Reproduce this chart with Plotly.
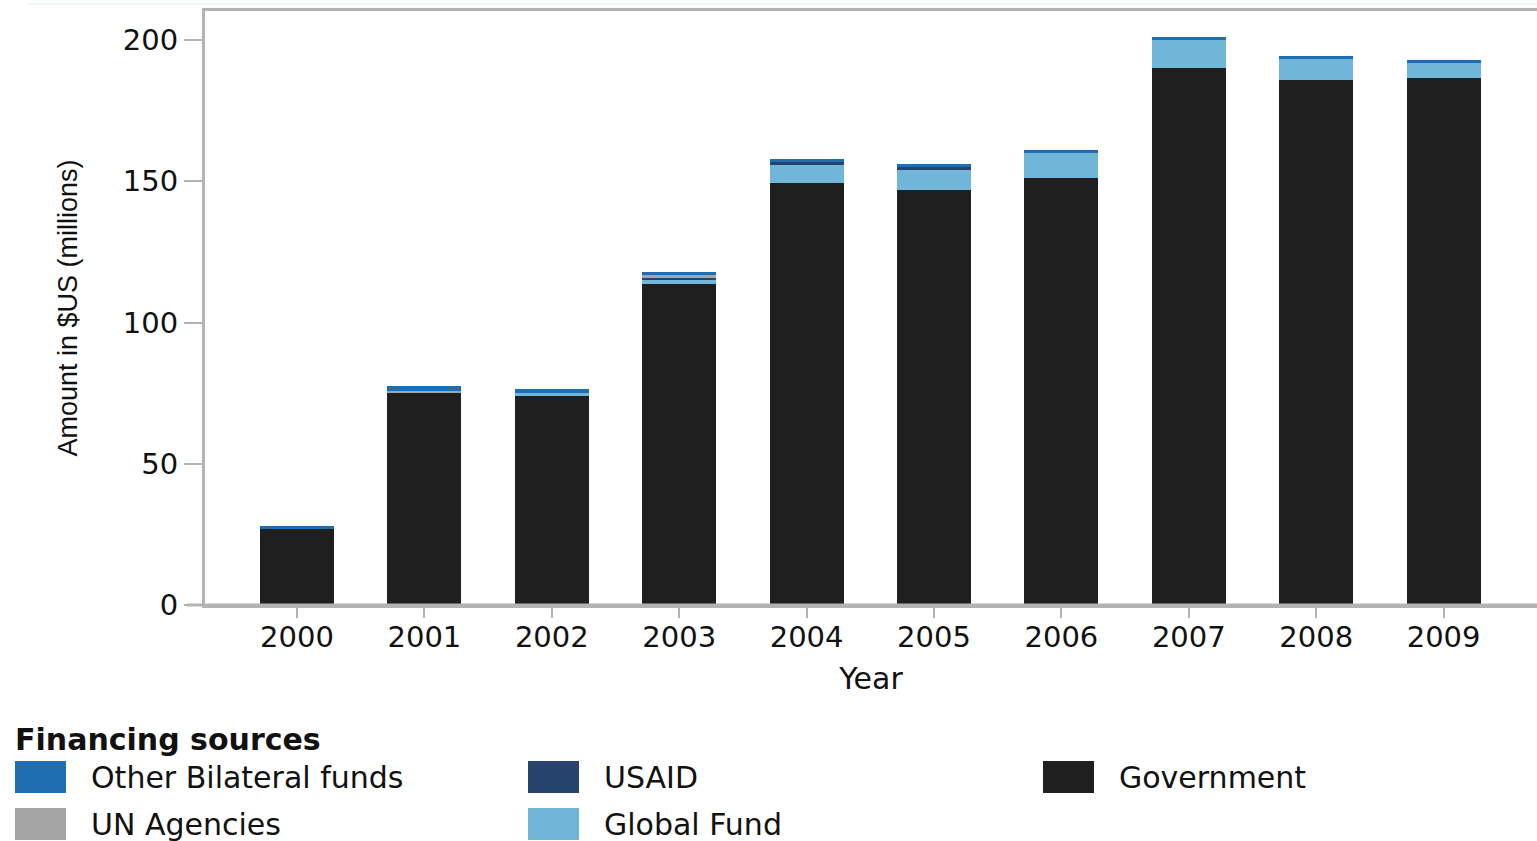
import plotly.graph_objects as go

years = ["2000", "2001", "2002", "2003", "2004", "2005", "2006", "2007", "2008", "2009"]
government = [27.0, 75.2, 74.1, 113.5, 149.3, 146.8, 151.1, 190.1, 185.8, 186.5]
global_fund = [0.0, 0.0, 1.1, 1.9, 6.7, 7.4, 8.9, 9.9, 7.4, 5.3]
usaid = [0.0, 0.0, 0.0, 0.6, 0.7, 0.7, 0.0, 0.0, 0.0, 0.0]
un_agencies = [0.0, 0.7, 0.0, 0.7, 0.0, 0.0, 0.0, 0.0, 0.0, 0.0]
other_bilateral = [1.0, 1.8, 1.1, 1.1, 1.1, 1.1, 1.1, 1.1, 1.1, 1.1]
y_ticks = [0, 50, 100, 150, 200]

series = [
    ("Government", government, "#1f1f1f"),
    ("Global Fund", global_fund, "#6fb6d9"),
    ("USAID", usaid, "#27446e"),
    ("UN Agencies", un_agencies, "#a5a5a5"),
    ("Other Bilateral funds", other_bilateral, "#1f6fb0"),
]
legend_order = ["Other Bilateral funds", "UN Agencies", "USAID", "Global Fund", "Government"]

W, H = 1537, 841
L, R, T, B = 205, 0, 11, 236
pw, ph = W - L - R, H - T - B


def px(x):
    return (x - L) / pw


def py(y):
    return (H - B - y) / ph


fig = go.Figure()
for name, vals, color in series:
    fig.add_trace(go.Bar(x=years, y=vals, name=name, marker=dict(color=color, line=dict(width=0)),
                         width=0.58, showlegend=False))

FONT = "DejaVu Sans, Verdana, sans-serif"
AXC = "#b3b3b3"
TXT = "#111111"

shapes = [
    dict(type="line", xref="paper", yref="paper", x0=px(187), x1=1, y0=0, y1=0,
         line=dict(color=AXC, width=3)),
    dict(type="line", xref="paper", yref="paper", x0=px(28), x1=1, y0=py(4), y1=py(4),
         line=dict(color="#d8eaf6", width=1)),
]
annotations = [
    dict(text="<b>Financing sources</b>", xref="paper", yref="paper", x=px(13), y=py(739),
         xanchor="left", yanchor="middle", showarrow=False, font=dict(family=FONT, size=30, color=TXT)),
]
col_x = [15, 528, 1043]
row_y = [777, 824]
colors = {n: c for n, _, c in series}
for i, name in enumerate(legend_order):
    c, r = divmod(i, 2)
    x0 = col_x[c]
    yc = row_y[r]
    shapes.append(dict(type="rect", xref="paper", yref="paper", x0=px(x0), x1=px(x0 + 51),
                       y0=py(yc + 16), y1=py(yc - 16), fillcolor=colors[name], line=dict(width=0)))
    annotations.append(dict(text=name, xref="paper", yref="paper", x=px(x0 + 74), y=py(yc),
                            xanchor="left", yanchor="middle", showarrow=False,
                            font=dict(family=FONT, size=30, color=TXT)))

fig.update_layout(
    width=W, height=H,
    margin=dict(l=L, r=R, t=T, b=B),
    barmode="stack",
    plot_bgcolor="white", paper_bgcolor="white",
    font=dict(family=FONT, size=28, color=TXT),
    xaxis=dict(type="category", range=[-0.722, 9.733], showline=True, mirror=True,
               linecolor=AXC, linewidth=3, ticks="outside", ticklen=10, tickwidth=2,
               tickcolor=AXC, tickfont=dict(size=29), showgrid=False, ticklabelstandoff=-6,
               title=dict(text="Year", font=dict(size=30), standoff=16)),
    yaxis=dict(range=[0, 210.3], tickvals=y_ticks, showline=True, linecolor=AXC, linewidth=3,
               ticks="outside", ticklen=18, tickwidth=2, tickcolor=AXC, tickfont=dict(size=29),
               showgrid=False, zeroline=False,
               title=dict(text="Amount in $US (millions)",
                          font=dict(family="Liberation Sans Narrow, Arial Narrow, Liberation Sans", size=27),
                          standoff=38)),
    shapes=shapes,
    annotations=annotations,
)

fig.write_html("out.html", config={"displayModeBar": False},
               post_script="document.body.style.margin='0';document.body.style.overflow='hidden';")
